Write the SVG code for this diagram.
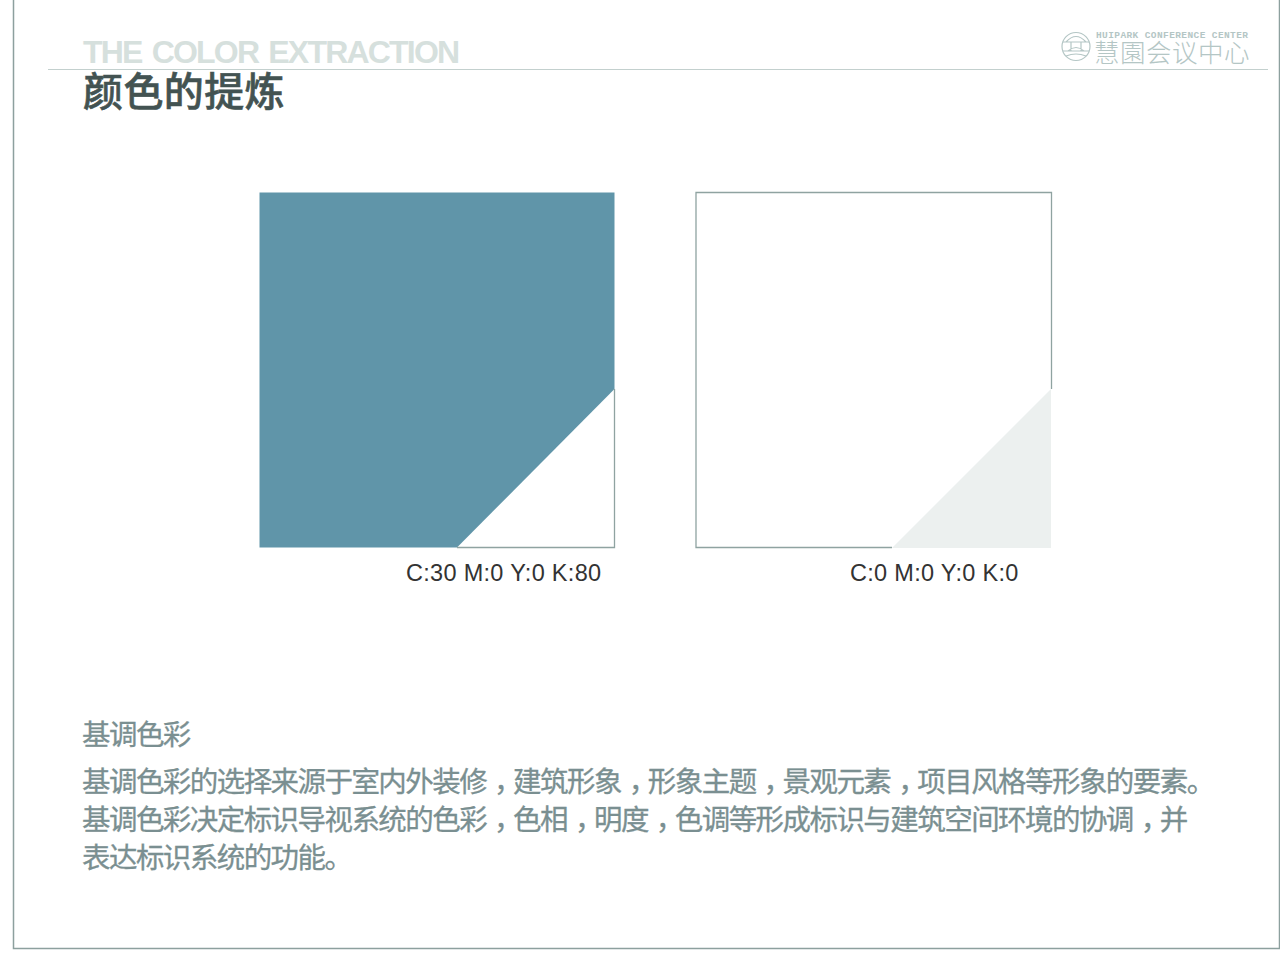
<svg xmlns="http://www.w3.org/2000/svg" width="1280" height="960" viewBox="0 0 1280 960">
<style>
.en{font-family:"Liberation Sans",Arial,sans-serif}
.mono{font-family:"Liberation Mono","Courier New",monospace}
.cj{font-family:"Noto Sans CJK SC","Liberation Sans",sans-serif}
.body{font-size:28.5px;fill:#7a8f91;stroke:#7a8f91;stroke-width:.3px;letter-spacing:-1.56px}
.swl{font-size:23.5px;fill:#333;letter-spacing:.3px}
.edge{fill:none;stroke:#8fa3a1;stroke-width:1.3}
.lg{fill:none;stroke:#b4c6c5;stroke-width:1.2}
</style>
<rect width="1280" height="960" fill="#fff"/>
<g id="frame"><path d="M13.500 0V948.500H1279.500V0" fill="none" stroke="#8da09e" stroke-width="1.500"/></g>
<g id="header">
<line x1="48" y1="69.500" x2="1268" y2="69.500" stroke="#c3d0ce" stroke-width="1"/>
<text x="83" y="63" class="en" font-size="32" font-weight="700" fill="#d6e0dd" letter-spacing="-1.800" word-spacing="3">THE COLOR EXTRACTION</text>
<text x="83" y="106" class="cj" font-size="40" font-weight="500" fill="#435352" stroke="#435352" stroke-width=".6" letter-spacing=".4">颜色的提炼</text>
</g>
<g id="logo">
<circle cx="1076" cy="46.500" r="14" class="lg" stroke-width="2"/>
<path class="lg" d="M1063 42H1089M1063 51H1089M1066 42Q1076 31 1086 42M1068 51Q1076 44 1084 51M1071 42V51M1081 42V51M1066 56Q1076 52 1086 56"/>
<text x="1096" y="38" class="mono" font-size="9.500" font-weight="700" fill="#b4c6c5" textLength="152" lengthAdjust="spacing">HUIPARK CONFERENCE CENTER</text>
<text x="1094" y="62" class="cj" font-size="25.500" font-weight="300" fill="#b4c6c5" letter-spacing=".5">慧園会议中心</text>
</g>
<g id="swatch-teal">
<rect x="259.500" y="192.500" width="355" height="355" fill="#6095a9"/>
<path d="M457 547.500L614.500 389V547.500Z" fill="#fff"/>
<path d="M614.500 389V547.500H457" class="edge"/>
<text x="406" y="581" class="en swl">C:30 M:0 Y:0 K:80</text>
</g>
<g id="swatch-white">
<path d="M1051.500 389V192.500H696V547.500H892" class="edge"/>
<path d="M892 548L1051 389V548Z" fill="#ecf0ef"/>
<text x="850" y="581" class="en swl">C:0 M:0 Y:0 K:0</text>
</g>
<g id="copy">
<text x="82" y="745" class="cj body">基调色彩</text>
<text x="82" y="792" class="cj body">基调色彩的选择来源于室内外装修<tspan dx="8">，</tspan><tspan dx="-8">建</tspan>筑形象<tspan dx="8">，</tspan><tspan dx="-8">形</tspan>象主题<tspan dx="8">，</tspan><tspan dx="-8">景</tspan>观元素<tspan dx="8">，</tspan><tspan dx="-8">项</tspan>目风格等形象的要素。</text>
<text x="82" y="830" class="cj body">基调色彩决定标识导视系统的色彩<tspan dx="8">，</tspan><tspan dx="-8">色</tspan>相<tspan dx="8">，</tspan><tspan dx="-8">明</tspan>度<tspan dx="8">，</tspan><tspan dx="-8">色</tspan>调等形成标识与建筑空间环境的协调<tspan dx="8">，</tspan><tspan dx="-8">并</tspan></text>
<text x="82" y="868" class="cj body">表达标识系统的功能。</text>
</g>
</svg>
